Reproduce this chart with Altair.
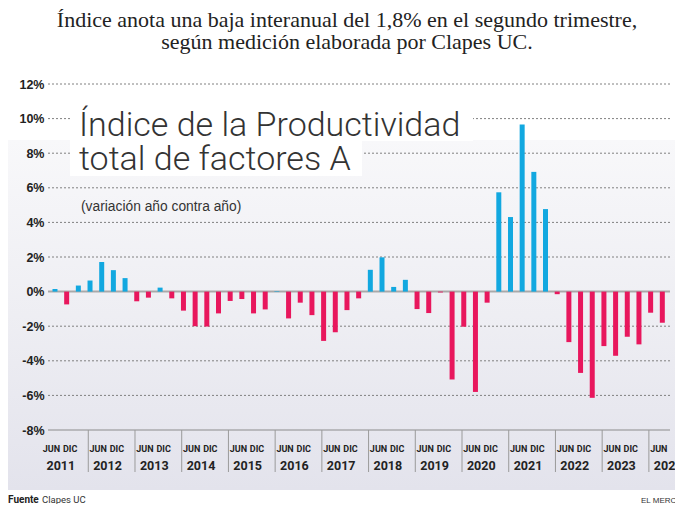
import altair as alt
import pandas as pd

# ---------------- data ----------------
years = list(range(2011, 2025))
periods = [f"{y}-T{q}" for y in years for q in (1, 2, 3, 4)][1:54]  # 2011-T2 .. 2024-T2

values = [
    0.15, -0.74, 0.35,            # 2011 (T2-T4)
    0.64, 1.71, 1.24, 0.78,       # 2012
    -0.56, -0.35, 0.23, -0.39,    # 2013
    -1.10, -2.00, -2.02, -1.26,   # 2014
    -0.54, -0.43, -1.26, -1.03,   # 2015
    0.03, -1.55, -0.64, -1.36,    # 2016
    -2.85, -2.35, -1.07, -0.39,   # 2017
    1.26, 1.98, 0.27, 0.68,       # 2018
    -1.01, -1.24, -0.05, -5.08,   # 2019
    -2.03, -5.80, -0.64, 5.74,    # 2020
    4.31, 9.66, 6.92, 4.77,       # 2021
    -0.15, -2.92, -4.70, -6.14,   # 2022
    -3.15, -3.71, -2.61, -3.05,   # 2023
    -1.22, -1.80,                 # 2024 (T1-T2)
]

y_ticks = [12, 10, 8, 6, 4, 2, 0, -2, -4, -6, -8]
grid_vals = [12, 10, 8, 6, 4, 2, -2, -4, -6]
month_labels = ["JUN", "DIC"]

subtitle = ["Índice anota una baja interanual del 1,8% en el segundo trimestre,",
            "según medición elaborada por Clapes UC."]
title_lines = ["Índice de la Productividad", "total de factores A"]
note = "(variación año contra año)"

# ---------------- derived tables ----------------
def pos_of(p):
    y, q = p.split("-T")
    return 4 * (int(y) - 2011) + (int(q) - 2)

df = pd.DataFrame({"periodo": periods, "valor": values})
df["pos"] = df["periodo"].map(pos_of)

year_df = pd.DataFrame({"label": [str(y) for y in years],
                        "pos": [4 * (y - 2011) + 0.5 for y in years]})
mrows = []
for y in years:
    c = 4 * (y - 2011) + 0.5
    mrows.append({"label": month_labels[0], "pos": c - 0.8})
    if y < 2024:
        mrows.append({"label": month_labels[1], "pos": c + 0.8})
month_df = pd.DataFrame(mrows)
sep_df = pd.DataFrame({"pos": [4 * (y - 2011) + 2.85 for y in years[:-1]]})

# ---------------- style ----------------
BLUE = "#12a8e0"
PINK = "#e8175d"
BOLDF = "Roboto, 'Liberation Sans', sans-serif"
LIGHT = "Roboto, 'Liberation Sans', sans-serif"
SANS = "'Liberation Sans', Arial, sans-serif"
SERIF = "'Liberation Serif', 'DejaVu Serif', serif"

W, H = 622, 346
xs = alt.Scale(domain=[-0.17, 52.23], nice=False, zero=False)
ys = alt.Scale(domain=[-8, 12], nice=False, zero=False)
yaxis = alt.Axis(values=y_ticks, labelExpr="datum.value + '%'", grid=False,
                 domain=False, ticks=False, title=None, labelFont=SANS,
                 labelFontWeight="bold", labelFontSize=12.5, labelColor="#222",
                 labelPadding=4, zindex=1)

one = alt.Data(values=[{}])

def ytbl(vals):
    return pd.DataFrame({"v": vals})

bg = alt.Chart(one).mark_rect(
    color=alt.LinearGradient(
        gradient="linear", x1=0, y1=0, x2=0, y2=1,
        stops=[alt.GradientStop(offset=0, color="#f8f8fa"),
               alt.GradientStop(offset=0.5, color="#eeeef3"),
               alt.GradientStop(offset=1, color="#e3e3ec")])
).encode(x=alt.value(-40), x2=alt.value(640), y=alt.value(56), y2=alt.value(406))

grid = alt.Chart(ytbl(grid_vals)).mark_rule(
    color="#808080", strokeDash=[2, 2], strokeWidth=1
).encode(y=alt.Y("v:Q", scale=ys, axis=yaxis))

zero = alt.Chart(ytbl([0])).mark_rule(color="#a9a9a9", strokeWidth=2).encode(
    y=alt.Y("v:Q", scale=ys, axis=yaxis))
bottom = alt.Chart(ytbl([-8])).mark_rule(color="#8c8c8c", strokeWidth=1.2).encode(
    y=alt.Y("v:Q", scale=ys, axis=yaxis))

box1 = alt.Chart(one).mark_rect(color="#ffffff").encode(
    x=alt.value(22), x2=alt.value(425), y=alt.value(10), y2=alt.value(57))
box2 = alt.Chart(one).mark_rect(color="#ffffff").encode(
    x=alt.value(22), x2=alt.value(314), y=alt.value(57), y2=alt.value(92))

bars = alt.Chart(df).mark_bar(size=5).encode(
    x=alt.X("pos:Q", scale=xs, axis=None),
    y=alt.Y("valor:Q", scale=ys, axis=yaxis),
    color=alt.condition("datum.valor >= 0", alt.value(BLUE), alt.value(PINK)),
)

seps = alt.Chart(sep_df).mark_rule(color="#9a9a9a", strokeWidth=1).encode(
    x=alt.X("pos:Q", scale=xs, axis=None), y=alt.value(346), y2=alt.value(388))

months = alt.Chart(month_df).mark_text(
    font=BOLDF, fontWeight="bold", fontSize=9, color="#222", baseline="alphabetic"
).encode(x=alt.X("pos:Q", scale=xs, axis=None), y=alt.value(368), text="label:N")

yrs = alt.Chart(year_df).mark_text(
    font=BOLDF, fontWeight="bold", fontSize=12.5, color="#222", baseline="alphabetic"
).encode(x=alt.X("pos:Q", scale=xs, axis=None), y=alt.value(386), text="label:N")

def txt(s, x, y, **kw):
    return alt.Chart(one).mark_text(text=s, baseline="alphabetic", **kw).encode(
        x=alt.value(x), y=alt.value(y))

texts = [
    txt(subtitle[0], 299, -57, font=SERIF, fontSize=22, color="#222", align="center"),
    txt(subtitle[1], 299, -35.5, font=SERIF, fontSize=22, color="#222", align="center"),
    txt(title_lines[0], 31, 52, font=LIGHT, fontWeight=300, fontSize=34, color="#333", align="left"),
    txt(title_lines[1], 31, 86, font=LIGHT, fontWeight=300, fontSize=34, color="#333", align="left"),
    txt(note, 33, 127, font=SANS, fontSize=13.8, color="#333", align="left"),
    txt("Fuente", -40, 419, font=BOLDF, fontWeight="bold", fontSize=10, color="#222", align="left"),
    txt("Clapes UC", -6, 419, font=BOLDF, fontSize=9.5, color="#333", align="left"),
    txt("EL MERCURIO", 593, 419, font=SANS, fontSize=8, color="#333", align="left"),
]

chart = alt.layer(bg, grid, zero, bottom, box1, box2, bars, seps, months, yrs, *texts).properties(
    width=W, height=H,
    autosize=alt.AutoSizeParams(type="none"),
    padding={"left": 40, "top": 76, "right": 5, "bottom": 74},
    background="white",
).configure_view(stroke=None)

chart.save("out.html", embed_options={"renderer": "svg", "actions": False})
